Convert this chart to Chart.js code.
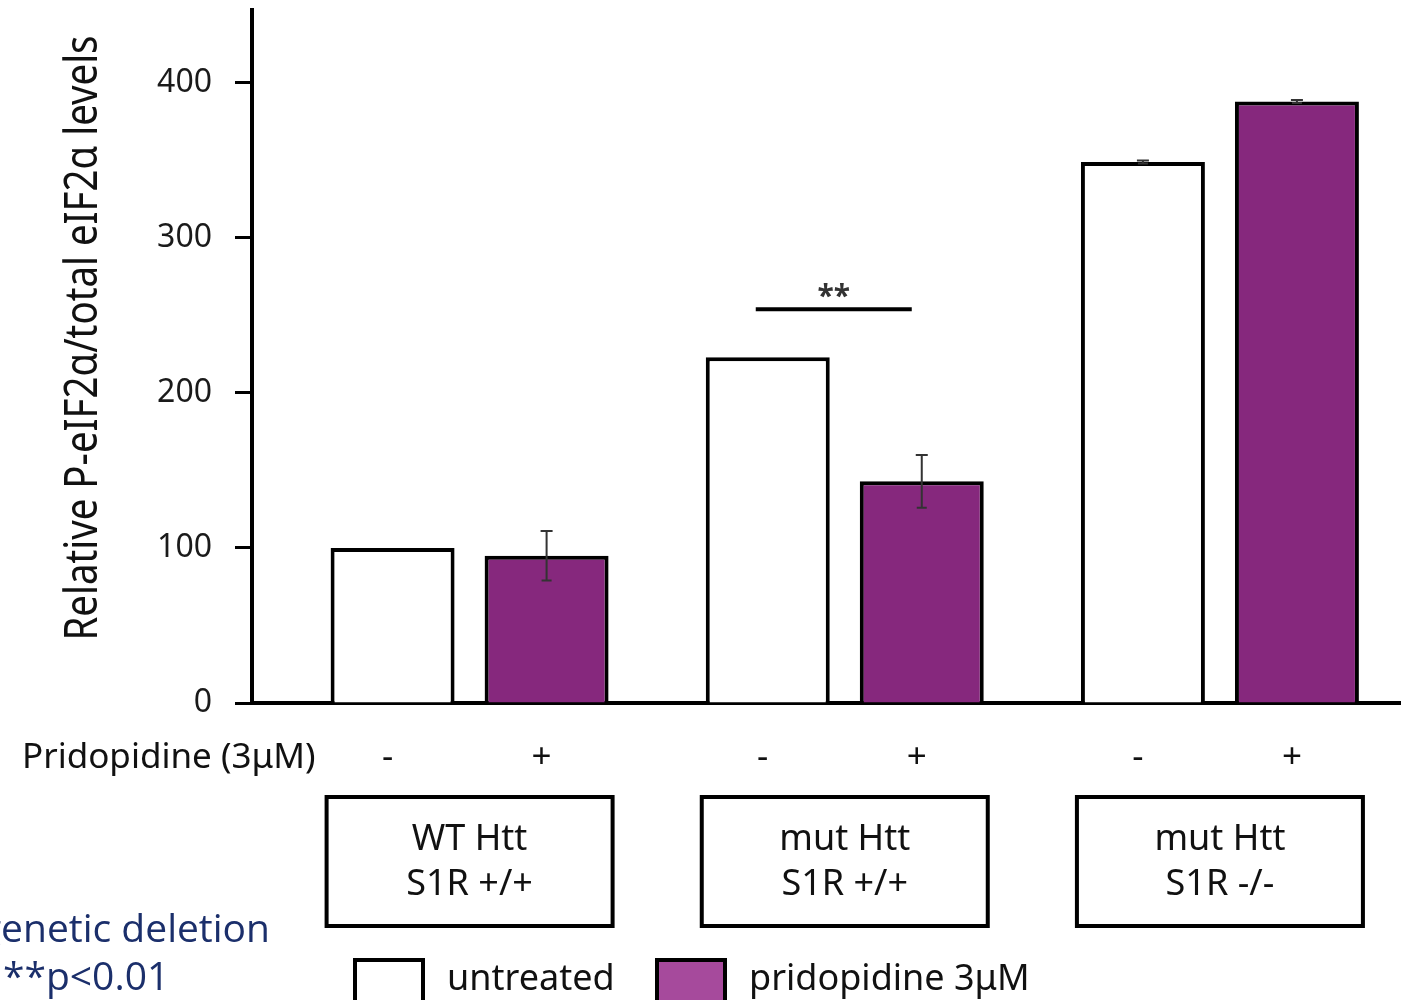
<!DOCTYPE html>
<html>
<head>
<meta charset="utf-8">
<script src="https://cdn.jsdelivr.net/npm/chart.js@4.4.1/dist/chart.umd.min.js"></script>
<style>
  html, body { margin: 0; padding: 0; background: #fff; }
  #wrap { width: 1407px; height: 1000px; }
</style>
</head>
<body>
<div id="wrap"><canvas id="chart" width="1407" height="1000"></canvas></div>
<script>
// data
const groups = [['WT Htt', 'S1R +/+'], ['mut Htt', 'S1R +/+'], ['mut Htt', 'S1R -/-']];
const seriesNames = ['untreated', 'pridopidine 3μM'];
const untreated = [100, 223, 349];
const untreatedErr = [0, 0, 1];
const pridopidine = [95, 143, 388];
const pridopidineErr = [16, 17, 1];
const treatmentMarks = ['-', '+'];
const yMax = 447;
const yStep = 100;
const sigGroup = 1;
const sigValue = 254;
const sigLabel = '**';

const font = '"Noto Sans", "Open Sans", sans-serif';
const purple = '#86287d';
const legendPurple = '#a64a9c';

// group index on a numeric x axis so the groups can sit where they do in the figure
const toPoints = vals => vals.map((v, i) => ({ x: i, y: v }));

// error bars + significance bar
const errorBars = {
    id: 'errorBars',
    afterDatasetsDraw(chart) {
        const ctx = chart.ctx;
        const y = chart.scales.y;
        ctx.save();
        chart.data.datasets.forEach((ds, i) => {
            const meta = chart.getDatasetMeta(i);
            meta.data.forEach((bar, j) => {
                const e = ds.errors[j];
                if (!e) return;
                const v = ds.data[j].y;
                const top = y.getPixelForValue(v + e);
                const bot = y.getPixelForValue(v - e);
                ctx.strokeStyle = '#333';
                ctx.lineWidth = 2;
                ctx.beginPath();
                ctx.moveTo(bar.x, top); ctx.lineTo(bar.x, bot);
                ctx.moveTo(bar.x - 6, top); ctx.lineTo(bar.x + 6, top);
                ctx.moveTo(bar.x - 5, bot); ctx.lineTo(bar.x + 5, bot);
                ctx.stroke();
            });
        });
        // significance
        const b0 = chart.getDatasetMeta(0).data[sigGroup];
        const b1 = chart.getDatasetMeta(1).data[sigGroup];
        const sy = y.getPixelForValue(sigValue);
        ctx.strokeStyle = '#000';
        ctx.lineWidth = 4;
        ctx.beginPath();
        ctx.moveTo(b0.x - 12, sy); ctx.lineTo(b1.x - 10, sy);
        ctx.stroke();
        ctx.fillStyle = '#333';
        ctx.font = 'bold 30px ' + font;
        ctx.textAlign = 'center';
        ctx.textBaseline = 'alphabetic';
        ctx.fillText(sigLabel, (b0.x + b1.x) / 2 - 11, sy - 3);
        ctx.restore();
    }
};

// everything outside the plot: axis title, treatment row, group boxes, legend, notes
const annotations = {
    id: 'annotations',
    afterDraw(chart) {
        const ctx = chart.ctx;
        const x = chart.scales.x;
        ctx.save();
        ctx.fillStyle = '#111';
        ctx.textBaseline = 'alphabetic';

        // y title
        ctx.save();
        ctx.translate(97, 338);
        ctx.rotate(-Math.PI / 2);
        ctx.font = '45px ' + font;
        ctx.textAlign = 'center';
        ctx.fillText('Relative P-eIF2α/total eIF2α levels', 0, 0, 605);
        ctx.restore();

        // treatment row
        ctx.font = '35px ' + font;
        ctx.textAlign = 'left';
        ctx.fillText('Pridopidine (3μM)', 22, 768, 301);
        ctx.textAlign = 'center';
        chart.data.datasets.forEach((ds, i) => {
            chart.getDatasetMeta(i).data.forEach(bar => {
                ctx.fillText(treatmentMarks[i], bar.x - 5, 768);
            });
        });

        // group boxes
        groups.forEach((g, i) => {
            const cx = x.getPixelForValue(i);
            ctx.strokeStyle = '#000';
            ctx.lineWidth = 4;
            ctx.strokeRect(cx - 143, 797, 286, 129);
            ctx.font = '36px ' + font;
            ctx.textAlign = 'center';
            ctx.fillText(g[0], cx, 850);
            ctx.fillText(g[1], cx, 895);
        });

        // legend
        const items = [
            { x: 355, color: '#ffffff', text: seriesNames[0] },
            { x: 657, color: legendPurple, text: seriesNames[1] }
        ];
        items.forEach(it => {
            ctx.fillStyle = it.color;
            ctx.fillRect(it.x, 960, 68, 44);
            ctx.strokeStyle = '#000';
            ctx.lineWidth = 4;
            ctx.strokeRect(it.x, 960, 68, 44);
            ctx.fillStyle = '#111';
            ctx.font = '36px ' + font;
            ctx.textAlign = 'left';
            ctx.fillText(it.text, it.x + 92, 990);
        });

        // notes at the lower left (cut by the frame in the original)
        ctx.fillStyle = '#1b2f6b';
        ctx.font = '39px "Open Sans", "Noto Sans", sans-serif';
        ctx.textAlign = 'right';
        ctx.fillText('genetic deletion', 270, 942);
        ctx.textAlign = 'left';
        ctx.fillText('**p<0.01', 3, 990);
        ctx.restore();
    }
};

const ctx = document.getElementById('chart').getContext('2d');
new Chart(ctx, {
    type: 'bar',
    data: {
        datasets: [{
            label: seriesNames[0],
            data: toPoints(untreated),
            errors: untreatedErr,
            backgroundColor: '#ffffff',
            borderColor: '#000',
            borderWidth: 4
        }, {
            label: seriesNames[1],
            data: toPoints(pridopidine),
            errors: pridopidineErr,
            backgroundColor: purple,
            borderColor: '#000',
            borderWidth: 4
        }]
    },
    options: {
        responsive: false,
        animation: false,
        categoryPercentage: 0.821,
        barPercentage: 0.805,
        layout: { padding: { top: 10, right: 7, left: 0, bottom: 0 } },
        plugins: {
            legend: { display: false },
            tooltip: { enabled: false }
        },
        scales: {
            x: {
                type: 'linear',
                min: -0.58,
                max: 2.48,
                offset: false,
                ticks: { display: false, stepSize: 1, includeBounds: false },
                grid: { display: false },
                border: { color: '#000', width: 4 },
                afterFit: scale => { scale.height = 297; scale.paddingLeft = 0; scale.paddingRight = 0; }
            },
            y: {
                min: 0,
                max: yMax,
                ticks: {
                    stepSize: yStep,
                    includeBounds: false,
                    color: '#1a1a1a',
                    padding: 23,
                    font: { family: font, size: 32 }
                },
                grid: {
                    drawOnChartArea: false,
                    tickLength: 17,
                    tickWidth: 3,
                    tickColor: '#000'
                },
                border: { color: '#000', width: 4 },
                afterFit: scale => { scale.width = 252; scale.paddingTop = 0; scale.paddingBottom = 0; }
            }
        }
    },
    plugins: [errorBars, annotations]
});
</script>
</body>
</html>
